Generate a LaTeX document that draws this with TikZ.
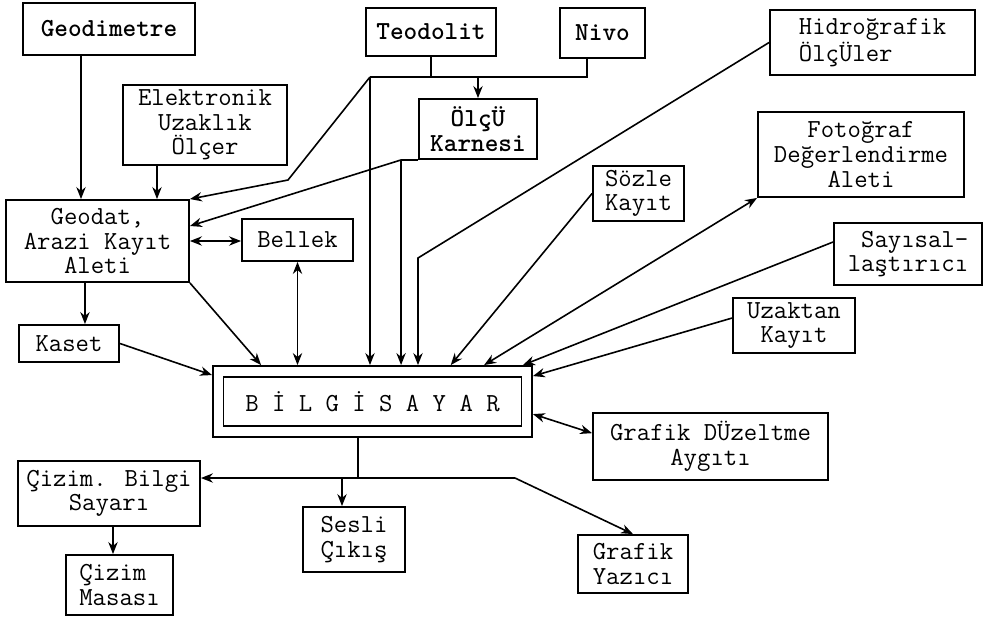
\documentclass[tikz,border=0pt]{standalone}
\usetikzlibrary{arrows.meta}

\tikzset{every picture/.style={line width=0.75pt}}
\tikzset{
  kutu/.style={draw, line width=1.4pt, inner sep=0pt, align=center,
    font=\ttfamily\fontsize{19.5}{18.5}\selectfont},
  kalin/.style={font=\ttfamily\bfseries\fontsize{19.5}{18.5}\selectfont},
  boyut/.style 2 args={minimum width=#1*0.75pt, minimum height=#2*0.75pt},
  ince/.style={line width=1.2pt},
  ok/.style={ince, -{Stealth[length=9pt,width=7pt]}},
  ciftok/.style={ince, {Stealth[length=9pt,width=7pt]}-{Stealth[length=9pt,width=7pt]}}
}

\begin{document}
\begin{tikzpicture}[x=0.75pt,y=0.75pt,yscale=-1,xscale=1]
\useasboundingbox (0,0) rectangle (986,619);

%Shape: Rectangle (inputs)
\node[kutu, kalin, boyut={172}{52}] (geodimetre) at (109,29) {Geodimetre};
\node[kutu, boyut={164}{80}] (elektronik) at (205,125) {Elektronik\\Uzaklık\\Ölçer};
\node[kutu, kalin, boyut={130}{48}] (teodolit) at (431,32) {Teodolit};
\node[kutu, kalin, boyut={85}{50}] (nivo) at (602.5,33) {Nivo};
\node[kutu, kalin, boyut={118}{60}] (olcu) at (478,129) {ÖlçÜ\\Karnesi};
\node[kutu, boyut={205}{65}, align=left] (hidro) at (872.5,42.5) {Hidroğrafik\\ ÖlçÜler};
\node[kutu, boyut={206}{85}] (foto) at (861,154.5) {Fotoğraf\\Değerlendirme\\Aleti};
\node[kutu, boyut={91}{55}, align=left] (sozle) at (638.5,193.5) {Sözle\\Kayıt};
\node[kutu, boyut={183}{82}] (geodat) at (97.5,241) {Geodat,\\Arazi Kayıt\\Aleti};
\node[kutu, boyut={111}{42}] (bellek) at (297.5,240) {Bellek};
\node[kutu, boyut={100}{37}] (kaset) at (69,343.5) {Kaset};
\node[kutu, boyut={148}{62}, align=right] (sayisal) at (908,254) {Sayısal-\\laştırıcı};
\node[kutu, boyut={122}{55}] (uzaktan) at (794,325.5) {Uzaktan\\Kayıt};

%Shape: Rectangle (computer, double frame)
\node[kutu, boyut={319}{71}] (bilgisayar) at (372.5,401.5) {};
\node[kutu, boyut={298}{49}] (bilgisayarIc) at (bilgisayar) {B İ L G İ S A Y A R};

%Shape: Rectangle (outputs)
\node[kutu, boyut={235}{67}] (duzeltme) at (710.5,446.5) {Grafik DÜzeltme\\Aygıtı};
\node[kutu, boyut={182}{65}] (cizimb) at (109,493.5) {Çizim. Bilgi\\Sayarı};
\node[kutu, boyut={107}{60}, align=left] (masasi) at (119.5,585) {Çizim\\Masası};
\node[kutu, boyut={102}{65}, align=left] (sesli) at (354,539.5) {Sesli\\Çıkış};
\node[kutu, boyut={110}{58}, align=left] (yazici) at (633,564) {Grafik\\Yazıcı};

%Bend points
\coordinate (tn) at (370,77);
\coordinate (k1) at (288,180);
\coordinate (k3) at (418,258);
\coordinate (k4) at (358,478);
\coordinate (k5) at (515,478);

%Straight Lines (to Geodat)
\draw[ok] ([xshift=-21pt]geodimetre.south) -- ([xshift=-21pt]geodimetre.south |- geodat.north);
\draw[ok] ([xshift=-36pt]elektronik.south) -- ([xshift=-36pt]elektronik.south |- geodat.north);

%Straight Lines (Teodolit, Nivo)
\draw[ince] (teodolit.south) -- (teodolit.south |- tn);
\draw[ince] ([xshift=-11.6pt]nivo.south) |- (tn);
\draw[ok] (olcu.north |- tn) -- (olcu.north);
\draw[ok] (tn) -- (tn |- bilgisayar.north);
\draw[ok] (tn) -- (k1) -- (geodat.north east);

%Straight Lines (Olcu Karnesi)
\draw[ince] (olcu.south west) -- ++(-17,0) coordinate (k2);
\draw[ok] (k2) -- (k2 |- bilgisayar.north);
\draw[ok] (k2) -- ([yshift=-11.25pt]geodat.east);

%Straight Lines (Hidrografik)
\draw[ok] (hidro.west) -- (k3) -- (k3 |- bilgisayar.north);

%Straight Lines (Geodat, Bellek, Kaset)
\draw[ciftok] (geodat.east) -- (geodat.east -| bellek.west);
\draw[ciftok] (bellek.south) -- (bellek.south |- bilgisayar.north);
\draw[ok] ([xshift=-9.4pt]geodat.south) -- ([xshift=-9.4pt]geodat.south |- kaset.north);
\draw[ok] (geodat.south east) -- ([xshift=36.75pt]bilgisayar.north west);
\draw[ok] (kaset.east) -- ([yshift=7.5pt]bilgisayar.north west);

%Straight Lines (right side inputs)
\draw[ok] (sozle.west) -- ([xshift=179pt]bilgisayar.north west);
\draw[ciftok] (foto.south west) -- ([xshift=204pt]bilgisayar.north west);
\draw[ok] ([yshift=-9pt]sayisal.west) -- ([xshift=-7.5pt]bilgisayar.north east);
\draw[ok] ([yshift=-5.6pt]uzaktan.west) -- ([yshift=8.25pt]bilgisayar.north east);
\draw[ciftok] ([yshift=36.75pt]bilgisayar.north east) -- ([yshift=-10pt]duzeltme.west);

%Straight Lines (outputs)
\draw[ince] (bilgisayar.south -| k4) -- (k4);
\draw[ok] (k5) -- (k4 -| cizimb.east);
\draw[ok] (k5) -- (yazici.north);
\draw[ok] ([xshift=-9pt]sesli.north |- k4) -- ([xshift=-9pt]sesli.north);
\draw[ok] ([xshift=3pt]cizimb.south) -- ([xshift=3pt]cizimb.south |- masasi.north);

\end{tikzpicture}
\end{document}
